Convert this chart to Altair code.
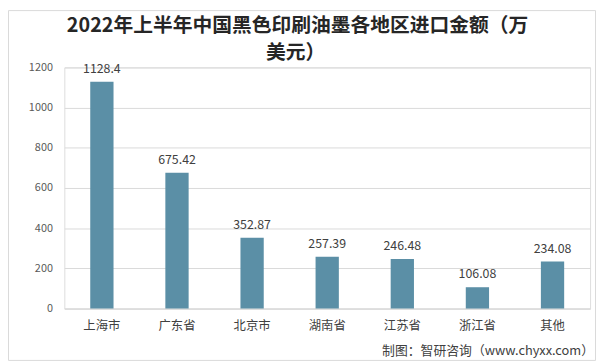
import altair as alt
import pandas as pd

regions = ["上海市", "广东省", "北京市", "湖南省", "江苏省", "浙江省", "其他"]
values = [1128.4, 675.42, 352.87, 257.39, 246.48, 106.08, 234.08]
value_labels = ["1128.4", "675.42", "352.87", "257.39", "246.48", "106.08", "234.08"]
y_ticks = [0, 200, 400, 600, 800, 1000, 1200]
title_line1 = "2022年上半年中国黑色印刷油墨各地区进口金额（万"
title_line2 = "美元）"
footer_text = "制图：智研咨询（www.chyxx.com）"

FONT = "Noto Sans CJK SC"
BAR = "#5b8fa6"
GRID = "#d9d9d9"

df = pd.DataFrame({"region": regions, "value": values, "label": value_labels})
base = alt.Chart(df)

x = alt.X(
    "region:N",
    sort=regions,
    scale=alt.Scale(paddingInner=0.69, paddingOuter=0.345),
    axis=alt.Axis(
        title=None, labelAngle=0, labelFontSize=12.5, labelColor="#404040",
        labelPadding=11, ticks=False, tickSize=0, domainColor=GRID, labelFont=FONT,
    ),
)
y = alt.Y(
    "value:Q",
    scale=alt.Scale(domain=[0, 1200], nice=False),
    axis=alt.Axis(
        title=None, values=y_ticks, format="d", labelFontSize=11, labelColor="#595959",
        labelPadding=12, ticks=False, tickSize=0, domain=False, gridColor=GRID,
        labelFont=FONT,
    ),
)

bars = base.mark_bar(color=BAR).encode(x=x, y=y)
labels = base.mark_text(
    dy=-9, baseline="alphabetic", fontSize=12.5, color="#404040", font=FONT
).encode(x=x, y=y, text="label:N")

one = alt.Data(values=[{}])
border = alt.Chart(one).mark_rect(fillOpacity=0, stroke=GRID, strokeWidth=1).encode(
    x=alt.value(-56.5), x2=alt.value(537.5), y=alt.value(-57.5), y2=alt.value(296.5)
)
t1 = alt.Chart(one).mark_text(
    text=title_line1, fontSize=20, fontWeight="bold", font=FONT, color="#262626",
    align="center", baseline="middle",
).encode(x=alt.value(236), y=alt.value(-42))
t2 = alt.Chart(one).mark_text(
    text=title_line2, fontSize=20, fontWeight="bold", font=FONT, color="#262626",
    align="center", baseline="middle",
).encode(x=alt.value(234), y=alt.value(-15))
foot = alt.Chart(one).mark_text(
    text=footer_text, fontSize=13, font=FONT, color="#404040",
    align="right", baseline="middle",
).encode(x=alt.value(536), y=alt.value(287))

chart = (
    alt.layer(border, bars, labels, t1, t2, foot)
    .properties(
        width=532, height=244,
        autosize=alt.AutoSizeParams(type="none"),
        padding={"left": 57, "top": 58, "right": 7, "bottom": 54},
    )
    .configure_view(stroke=None)
    .configure(background="white", font=FONT)
)

chart.save("out.html", embed_options={"renderer": "svg", "actions": False})
